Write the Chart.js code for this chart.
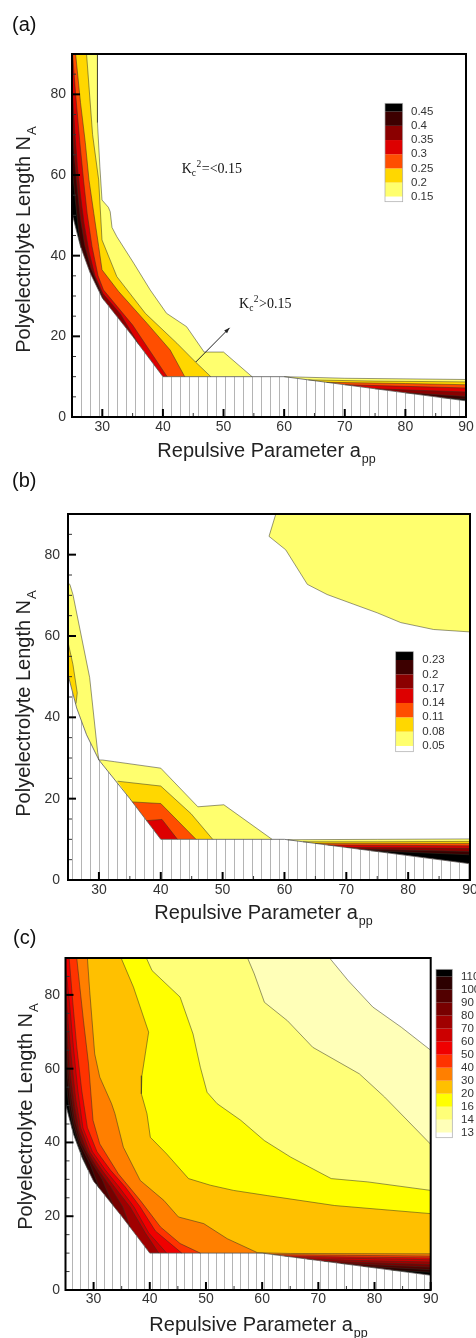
<!DOCTYPE html>
<html>
<head>
<meta charset="utf-8">
<script src="https://cdn.jsdelivr.net/npm/chart.js@4.4.1/dist/chart.umd.min.js"></script>
<style>
  body { margin: 0; background: #fff; width: 476px; height: 1338px; position: relative; overflow: hidden; }
  canvas { position: absolute; left: 0; }
</style>
</head>
<body>
<canvas id="ca" width="476" height="470" style="top:0px"></canvas>
<canvas id="cb" width="476" height="480" style="top:455px"></canvas>
<canvas id="cc" width="476" height="428" style="top:910px"></canvas>
<script>
const FONT = "'Liberation Sans', Arial, sans-serif";
const SERIF = "'Liberation Serif', 'Times New Roman', serif";

const X_MIN = 25, X_MAX = 90, Y_MIN = 0, Y_MAX = 90;
const X_TICKS = [30, 40, 50, 60, 70, 80, 90];
const X_MINOR = [35, 45, 55, 65, 75, 85];
const Y_TICKS = [0, 20, 40, 60, 80];
const Y_MINOR = [5, 10, 15, 25, 30, 35, 45, 50, 55, 65, 70, 75, 85];

// lower edge of the computed region, hatched below it
const BOUNDARY = [[25, 50.5], [26.4, 42.3], [28, 35.7], [30, 29.5], [35, 20], [40, 10], [60, 10], [70, 8], [80, 6], [90, 4]];

// (a) contour levels, band colours (below first level, then above each level)
const A_LABELS = ['0.15', '0.2', '0.25', '0.3', '0.35', '0.4', '0.45'];
const A_COLORS = ['#ffffff', '#ffff6e', '#ffd700', '#ff4e00', '#dd0000', '#8b0000', '#3d0000', '#000000'];
// [level index, isoline]  (higher values on the right hand side of the line)
const A_ISO = [
  [0, [[29.2, 90], [29.2, 73], [29.6, 62], [29.95, 53.8], [31, 52], [31.3, 50.9], [31.6, 47], [32.4, 44.7], [35.2, 38.1], [37.9, 31.5], [40.6, 25.7], [43.9, 22.4], [46.8, 16.1], [50, 16.1], [54.7, 10]]],
  [0, [[60, 10], [70, 9.6], [90, 9.3]]],
  [1, [[27.4, 90], [28.4, 70], [29.4, 58.8], [29.95, 43.9], [32.4, 34.8], [37.1, 25.7], [42.3, 18.3], [45.4, 13.6], [47.9, 10]]],
  [1, [[64, 9.2], [75, 8.9], [90, 8.7]]],
  [2, [[25.6, 90], [26.4, 78], [27.2, 68], [27.8, 58.8], [28.6, 50.5], [29.4, 42.3], [29.95, 36.5], [32.7, 31.1], [37.4, 23.2], [41.2, 16.6], [43.6, 10]]],
  [2, [[67, 8.6], [80, 8.3], [90, 8.0]]],
  [3, [[25.1, 90], [25.6, 80], [26.3, 68], [26.9, 58.8], [27.5, 50.5], [28.3, 42.3], [29.3, 35], [30.2, 31.5], [35, 22.8], [40.7, 10]]],
  [3, [[70, 8], [80, 7.6], [90, 7.2]]],
  [4, [[25, 82], [25.5, 70], [25.9, 62], [26.4, 55], [27, 48], [27.8, 41], [28.8, 35], [30.1, 30.6], [33, 25.5], [36, 18]]],
  [4, [[75, 7], [90, 6.2]]],
  [5, [[25, 72], [25.4, 64], [25.9, 56], [26.4, 49], [27.1, 42.5], [28.1, 37], [29.5, 32], [30.3, 28.9]]],
  [5, [[80, 6], [90, 5.1]]],
  [6, [[25, 62], [25.4, 56], [25.8, 50], [26.1, 46], [26.5, 41.9]]],
  [6, [[86, 4.8], [90, 4.4]]]
];

// (b)
const B_LABELS = ['0.05', '0.08', '0.11', '0.14', '0.17', '0.2', '0.23'];
const B_COLORS = ['#ffffff', '#ffff6e', '#ffd700', '#ff4e00', '#dd0000', '#8b0000', '#3d0000', '#000000'];
const B_ISO = [
  [0, [[90, 61], [84.1, 61.6], [78.8, 63.3], [75, 65.7], [71.2, 67.8], [66.9, 70.2], [63.7, 72.7], [60.2, 81.2], [57.5, 84.5], [58.6, 90]]],
  [0, [[25, 73], [25.3, 72.7], [25.8, 70.2], [28.5, 49.8], [29.8, 31.4], [30, 29.5], [30.6, 29.5], [32.5, 29.1], [40, 27.5], [46, 18], [50.2, 18.5], [58, 10]]],
  [0, [[60.5, 9.9], [75, 10], [90, 10.1]]],
  [1, [[25, 58.5], [25.8, 53], [26.5, 46], [26.3, 43.4]]],
  [1, [[33, 24.3], [40, 23.1], [44.9, 16.3], [48.4, 10]]],
  [1, [[63, 9.4], [75, 9.4], [90, 9.5]]],
  [2, [[35.4, 19.2], [40, 18.8], [45.7, 10]]],
  [2, [[65, 9], [80, 9], [90, 9]]],
  [3, [[37.7, 14.6], [40.2, 14.9], [42.7, 10]]],
  [3, [[67, 8.6], [80, 8.5], [90, 8.4]]],
  [4, [[70, 8], [80, 7.9], [90, 7.8]]],
  [5, [[72, 7.6], [90, 7]]],
  [6, [[74, 7.2], [90, 6.2]]]
];

// (c)
const C_LABELS = ['13', '14', '16', '20', '30', '40', '50', '60', '70', '80', '90', '100', '110'];
const C_COLORS = ['#ffffff', '#ffffb8', '#ffff78', '#ffff00', '#ffc000', '#ff7f00', '#ff3300', '#f00000', '#cc0000',
  '#a00000', '#780000', '#520000', '#2c0000', '#000000'];
const C_ISO = [
  [0, [[72, 90], [75.3, 83.9], [79.7, 76.7], [84.8, 71.2], [90, 65]]],
  [1, [[57.4, 90], [58.6, 85.7], [60.4, 78], [64.5, 73], [69, 65.8], [77.3, 58.6], [81.8, 52.3], [90, 39.5]]],
  [2, [[39.4, 90], [40.4, 86.6], [45.4, 79.4], [47.7, 69.4], [49, 60.4], [50.2, 53.6], [52, 50.5], [56.2, 46], [60.4, 40.5], [65.1, 36], [72.3, 30.2], [78.8, 29.3], [90, 27]]],
  [3, [[34.9, 90], [37.1, 82.1], [39.8, 69.9], [39.2, 64], [38.6, 58.1], [38.5, 53.2], [39.5, 47.8], [40.1, 41.4], [43, 36.9], [46.9, 30.2], [50.8, 28.4], [54.9, 27], [60.9, 25.6], [72.9, 22.9], [90, 20.7]]],
  [4, [[28.9, 90], [29.3, 81.2], [30.2, 64], [31.1, 57.7], [33.2, 50.5], [33.8, 47.8], [35.3, 38.7], [38.3, 29.7], [42.5, 24.3], [45.1, 19.8], [49.6, 18], [53.8, 13.9], [59.2, 10.1], [65, 9.9], [90, 9.8]]],
  [5, [[27, 90], [28.2, 73], [29.1, 61.3], [29.9, 46], [31.1, 39.6], [34.4, 31.5], [38.3, 24.3], [41.9, 17.1], [45.4, 12.6], [49, 10]]],
  [5, [[62, 9.6], [75, 9.4], [90, 9.2]]],
  [6, [[25.65, 90], [26.3, 78], [27, 66], [27.9, 54], [28.9, 44], [30.6, 37.5], [33, 32.5], [35.6, 28], [38.3, 22.5], [41, 16], [45.7, 10]]],
  [6, [[64, 9.2], [78, 8.9], [90, 8.7]]],
  [7, [[25, 88], [25.7, 78], [26.4, 66], [27.2, 54], [28.1, 44], [29.8, 37.5], [32.1, 32.5], [34.5, 28], [37.2, 22.5], [39.8, 15.5], [43, 10]]],
  [7, [[66, 8.8], [80, 8.5], [90, 8.2]]],
  [8, [[25, 82], [25.5, 72], [26.1, 62], [26.8, 52], [27.7, 44], [29.3, 37.5], [31.5, 32.5], [33.7, 28], [36.5, 22.5], [39.2, 15.5], [41.6, 10]]],
  [8, [[68, 8.4], [80, 7.9], [90, 7.6]]],
  [9, [[25, 76], [25.4, 67], [25.9, 58], [26.6, 50], [27.4, 43.3], [28.9, 37.5], [30.9, 32.5], [33, 28], [35.2, 22.5], [36.5, 17]]],
  [9, [[71, 7.8], [90, 6.9]]],
  [10, [[25, 70], [25.4, 61], [25.9, 54], [26.6, 46.5], [27.8, 40], [29.7, 34.5], [31.5, 30], [33.5, 22.9]]],
  [10, [[74, 7.2], [90, 6.2]]],
  [11, [[25, 64], [25.4, 57], [25.9, 50.5], [26.5, 45], [27.6, 39.5], [29.4, 34], [31, 27.6]]],
  [11, [[78, 6.4], [90, 5.5]]],
  [12, [[25, 58], [25.5, 51], [26.2, 45], [27.3, 39.5], [29, 32.6]]],
  [12, [[83, 5.4], [90, 4.8]]]
];

// outline of the plotted region, clockwise
const PERIM = [[X_MIN, Y_MAX], [X_MAX, Y_MAX]].concat(BOUNDARY.slice().reverse());

function perimParam(p) {
  const n = PERIM.length;
  let best = Infinity, par = 0;
  for (let i = 0; i < n; i++) {
    const a = PERIM[i], b = PERIM[(i + 1) % n];
    const dx = (b[0] - a[0]) * 6, dy = (b[1] - a[1]) * 4;
    const px = (p[0] - a[0]) * 6, py = (p[1] - a[1]) * 4;
    const len = dx * dx + dy * dy;
    let t = len ? (px * dx + py * dy) / len : 0;
    t = Math.max(0, Math.min(1, t));
    const ex = px - t * dx, ey = py - t * dy;
    const d = ex * ex + ey * ey;
    if (d < best) { best = d; par = i + t; }
  }
  return par;
}

// closes an isoline along the region outline to get the area above that level
function closePolygon(line) {
  const n = PERIM.length;
  const ts = perimParam(line[0]);
  const te = perimParam(line[line.length - 1]);
  const span = (((ts - te) % n) + n) % n;
  const pts = line.slice();
  for (let k = Math.floor(te) + 1; k - te < span - 1e-6; k++) {
    pts.push(PERIM[k % n]);
  }
  return pts;
}

function seg(ctx, x1, y1, x2, y2, w, c) {
  ctx.beginPath();
  ctx.moveTo(x1, y1);
  ctx.lineTo(x2, y2);
  ctx.lineWidth = w;
  ctx.strokeStyle = c;
  ctx.stroke();
}

function subText(ctx, main, sub, cx, cy, size, subSize) {
  ctx.font = size + 'px ' + FONT;
  const w1 = ctx.measureText(main).width;
  ctx.font = subSize + 'px ' + FONT;
  const w2 = ctx.measureText(sub).width;
  const x0 = cx - (w1 + w2) / 2;
  const base = cy + size * 0.36;
  ctx.textAlign = 'left';
  ctx.textBaseline = 'alphabetic';
  ctx.font = size + 'px ' + FONT;
  ctx.fillText(main, x0, base);
  ctx.font = subSize + 'px ' + FONT;
  ctx.fillText(sub, x0 + w1 + 1, base + size * 0.3);
}

function kLabel(ctx, rest, cx, cy) {
  const big = '14px ' + SERIF, small = '9.5px ' + SERIF;
  ctx.font = big;
  const wK = ctx.measureText('K').width, wR = ctx.measureText(rest).width;
  ctx.font = small;
  const wc = ctx.measureText('c').width, w2 = ctx.measureText('2').width;
  let xx = cx - (wK + wc + w2 + wR) / 2;
  const base = cy + 5;
  ctx.fillStyle = '#111';
  ctx.textAlign = 'left';
  ctx.textBaseline = 'alphabetic';
  ctx.font = big; ctx.fillText('K', xx, base); xx += wK;
  ctx.font = small; ctx.fillText('c', xx, base + 3); xx += wc;
  ctx.fillText('2', xx + 0.5, base - 6); xx += w2 + 1;
  ctx.font = big; ctx.fillText(rest, xx, base);
}

function hatchPattern(ctx, step) {
  const c = document.createElement('canvas');
  c.width = step; c.height = 4;
  const g = c.getContext('2d');
  g.fillStyle = '#b4b4b4';
  g.fillRect(0, 0, 1, 4);
  return ctx.createPattern(c, 'repeat');
}

const contourPlugin = {
  id: 'contour',
  beforeDatasetsDraw(chart, args, o) {
    const { ctx, chartArea: ca, scales: { x, y } } = chart;
    const path = pts => {
      ctx.beginPath();
      pts.forEach(([vx, vy], i) => {
        const px = x.getPixelForValue(vx), py = y.getPixelForValue(vy);
        if (i) ctx.lineTo(px, py); else ctx.moveTo(px, py);
      });
      ctx.closePath();
    };
    ctx.save();
    ctx.beginPath();
    ctx.rect(ca.left, ca.top, ca.width, ca.height);
    ctx.clip();
    ctx.fillStyle = o.colors[0];
    ctx.fillRect(ca.left, ca.top, ca.width, ca.height);
    o.iso.forEach(([lev, line]) => {
      path(closePolygon(line));
      ctx.fillStyle = o.colors[lev + 1];
      ctx.fill();
    });
    path(BOUNDARY.concat([[X_MAX, Y_MIN], [X_MIN, Y_MIN]]));
    ctx.fillStyle = '#ffffff';
    ctx.fill();
    ctx.fillStyle = hatchPattern(ctx, o.hatch);
    ctx.fill();
    ctx.restore();
  },
  afterDraw(chart, args, o) {
    const { ctx, chartArea: ca, scales: { x, y } } = chart;
    ctx.save();
    X_TICKS.forEach(v => { const p = x.getPixelForValue(v); seg(ctx, p, ca.bottom, p, ca.bottom - 8, 2, '#000'); });
    X_MINOR.forEach(v => { const p = x.getPixelForValue(v); seg(ctx, p, ca.bottom, p, ca.bottom - 4, 1, '#333'); });
    Y_TICKS.forEach(v => { const p = y.getPixelForValue(v); seg(ctx, ca.left, p, ca.left + 8, p, 2, '#000'); });
    Y_MINOR.forEach(v => { const p = y.getPixelForValue(v); seg(ctx, ca.left, p, ca.left + 4, p, 1, '#333'); });
    ctx.lineWidth = 2;
    ctx.strokeStyle = '#000';
    ctx.strokeRect(ca.left, ca.top, ca.width, ca.height);

    // colour bar
    const cb = o.cb, n = o.labels.length;
    const ly = k => cb.first + (n - 1 - k) * cb.step;
    ctx.fillStyle = o.colors[n];
    ctx.fillRect(cb.x, cb.top, cb.w, ly(n - 1) - cb.top);
    for (let k = 0; k < n - 1; k++) {
      ctx.fillStyle = o.colors[k + 1];
      ctx.fillRect(cb.x, ly(k + 1), cb.w, ly(k) - ly(k + 1));
    }
    ctx.fillStyle = o.colors[0];
    ctx.fillRect(cb.x, ly(0), cb.w, cb.bottom - ly(0));
    ctx.lineWidth = 0.7;
    ctx.strokeStyle = '#aaa';
    ctx.strokeRect(cb.x, cb.top, cb.w, cb.bottom - cb.top);
    ctx.fillStyle = '#333';
    ctx.font = '11.5px ' + FONT;
    ctx.textAlign = 'left';
    ctx.textBaseline = 'middle';
    o.labels.forEach((t, k) => ctx.fillText(t, cb.lx, ly(k)));

    // panel tag and axis titles
    const t = o.text;
    ctx.fillStyle = '#111';
    ctx.font = '20px ' + FONT;
    ctx.textAlign = 'left';
    ctx.textBaseline = 'middle';
    ctx.fillText(t.tag, t.tagX, t.tagY);
    ctx.fillStyle = '#222';
    subText(ctx, 'Repulsive Parameter a', 'pp', t.xtX, t.xtY, 20, 12.5);
    ctx.save();
    ctx.translate(t.ytX, t.ytY);
    ctx.rotate(-Math.PI / 2);
    subText(ctx, 'Polyelectrolyte Length N', 'A', 0, 0, 20, 13);
    ctx.restore();

    if (o.notes) {
      kLabel(ctx, '=<0.15', x.getPixelForValue(48), y.getPixelForValue(61.8));
      kLabel(ctx, '>0.15', x.getPixelForValue(56.8), y.getPixelForValue(28.3));
      const x1 = x.getPixelForValue(45.4), y1 = y.getPixelForValue(13.6);
      const x2 = x.getPixelForValue(51), y2 = y.getPixelForValue(22.1);
      seg(ctx, x1, y1, x2, y2, 1, '#222');
      const a = Math.atan2(y2 - y1, x2 - x1);
      ctx.beginPath();
      ctx.moveTo(x2, y2);
      ctx.lineTo(x2 - 6 * Math.cos(a - 0.35), y2 - 6 * Math.sin(a - 0.35));
      ctx.lineTo(x2 - 6 * Math.cos(a + 0.35), y2 - 6 * Math.sin(a + 0.35));
      ctx.closePath();
      ctx.fillStyle = '#222';
      ctx.fill();
    }
    ctx.restore();
  }
};

function makeChart(id, o) {
  const iso = o.iso.slice().sort((p, q) => p[0] - q[0]);
  const datasets = iso.map(([lev, line]) => ({
    data: line.map(([vx, vy]) => ({ x: vx, y: vy })),
    showLine: true,
    borderColor: 'rgba(50, 50, 35, 0.85)',
    borderWidth: 0.6,
    pointRadius: 0,
    fill: false
  }));
  datasets.push({
    data: BOUNDARY.map(([vx, vy]) => ({ x: vx, y: vy })),
    showLine: true,
    borderColor: '#555',
    borderWidth: 0.8,
    pointRadius: 0,
    fill: false
  });
  const noPad = s => { s.paddingLeft = 0; s.paddingRight = 0; s.paddingTop = 0; s.paddingBottom = 0; };
  new Chart(document.getElementById(id), {
    type: 'scatter',
    data: { datasets },
    options: {
      responsive: false,
      animation: false,
      events: [],
      layout: { padding: o.pad },
      plugins: {
        legend: { display: false },
        tooltip: { enabled: false },
        contour: {
          iso, colors: o.colors, labels: o.labels, cb: o.cb, text: o.text, hatch: o.hatch, notes: o.notes
        }
      },
      scales: {
        x: {
          type: 'linear', min: X_MIN, max: X_MAX,
          grid: { display: false, drawTicks: false },
          border: { display: false },
          afterBuildTicks: s => { s.ticks = X_TICKS.map(v => ({ value: v })); },
          afterFit: s => { s.height = 30; noPad(s); },
          ticks: { padding: o.xtp, maxRotation: 0, color: '#333', font: { family: FONT, size: 14 } }
        },
        y: {
          type: 'linear', min: Y_MIN, max: Y_MAX,
          grid: { display: false, drawTicks: false },
          border: { display: false },
          afterBuildTicks: s => { s.ticks = Y_TICKS.map(v => ({ value: v })); },
          afterFit: s => { s.width = o.yw; noPad(s); },
          ticks: { padding: o.ytp, color: '#333', font: { family: FONT, size: 14 } }
        }
      }
    },
    plugins: [contourPlugin]
  });
}

makeChart('ca', {
  iso: A_ISO, colors: A_COLORS, labels: A_LABELS,
  pad: { left: 0, top: 54, right: 10, bottom: 23 }, yw: 72, xtp: 2, ytp: 6, hatch: 9, notes: true,
  cb: { x: 385, w: 17.7, top: 103.3, first: 111.7, step: 14.17, bottom: 201.7, lx: 411 },
  text: { tag: '(a)', tagX: 12, tagY: 25, xtX: 266, xtY: 450, ytX: 23, ytY: 240 }
});
makeChart('cb', {
  iso: B_ISO, colors: B_COLORS, labels: B_LABELS,
  pad: { left: 0, top: 59, right: 6, bottom: 25 }, yw: 68, xtp: 2, ytp: 8, hatch: 9, notes: false,
  cb: { x: 395.7, w: 17.6, top: 196.7, first: 205, step: 14.33, bottom: 296.7, lx: 422.3 },
  text: { tag: '(b)', tagX: 12, tagY: 26, xtX: 263, xtY: 457, ytX: 23, ytY: 249 }
});
makeChart('cc', {
  iso: C_ISO, colors: C_COLORS, labels: C_LABELS,
  pad: { left: 0, top: 48, right: 45.3, bottom: 18 }, yw: 65.5, xtp: 1, ytp: 5.5, hatch: 8, notes: false,
  cb: { x: 436, w: 16.3, top: 59.3, first: 66.7, step: 13, bottom: 227.7, lx: 461 },
  text: { tag: '(c)', tagX: 13, tagY: 28, xtX: 258, xtY: 414, ytX: 25, ytY: 207 }
});
</script>
</body>
</html>
